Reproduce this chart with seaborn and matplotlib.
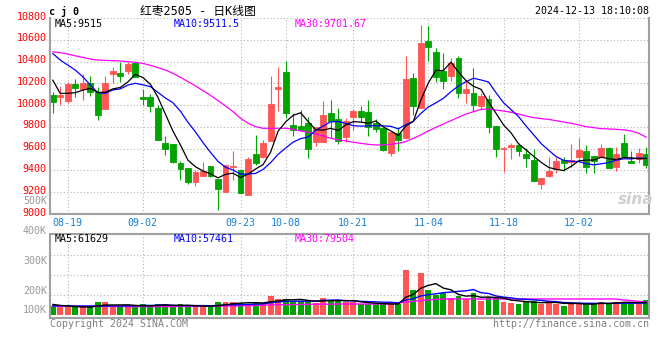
import matplotlib
matplotlib.use("Agg")
import matplotlib.pyplot as plt
import matplotlib.transforms as mtransforms
import numpy as np
import pandas as pd
import seaborn as sns

# ---------------- data ----------------
tick_pos = [2, 12, 25, 31, 40, 50, 60, 70]
tick_labels = ["08-19", "09-02", "09-23", "10-08", "10-21", "11-04", "11-18", "12-02"]
price_ticks = [9000, 9200, 9400, 9600, 9800, 10000, 10200, 10400, 10600, 10800]
vol_grid = [100000, 200000, 300000]
vol_label_text = ["500K", "400K", "300K", "200K", "100K"]

open_ = [10093, 10071, 10041, 10194, 10148, 10200, 10117, 9967, 10282, 10297,
         10316, 10383, 10074, 10071, 9973, 9649, 9643, 9472, 9426, 9294,
         9350, 9441, 9322, 9203, 9429, 9405, 9175, 9551, 9521, 9674,
         10151, 10304, 9818, 9808, 9833, 9665, 9659, 9924, 9870, 9711,
         9894, 9946, 9940, 9839, 9793, 9558, 9747, 9695, 10252, 9970,
         10591, 10484, 10312, 10270, 10429, 10114, 10108, 9992, 10056, 9808,
         9601, 9619, 9634, 9551, 9497, 9276, 9350, 9411, 9497, 9481,
         9521, 9579, 9533, 9527, 9603, 9435, 9649, 9487, 9506, 9551]
high = [10123, 10175, 10215, 10236, 10285, 10267, 10169, 10267, 10347, 10397,
        10392, 10397, 10145, 10099, 10001, 9716, 9643, 9487, 9426, 9405,
        9481, 9441, 9322, 9451, 9579, 9410, 9527, 9726, 9680, 10270,
        10353, 10408, 9924, 9955, 9888, 9796, 10041, 10047, 9970, 9885,
        9961, 9992, 10047, 9870, 9793, 9757, 9796, 10450, 10298, 10740,
        10726, 10521, 10481, 10429, 10450, 10230, 10337, 10108, 10093, 9808,
        9612, 9649, 9655, 9603, 9597, 9334, 9527, 9527, 9527, 9640,
        9701, 9634, 9533, 9640, 9612, 9619, 9732, 9579, 9603, 9612]
low = [9930, 10001, 10022, 10077, 10047, 10084, 9863, 9967, 10200, 10209,
       10282, 10255, 10001, 9940, 9680, 9542, 9466, 9313, 9276, 9261,
       9350, 9343, 9037, 9203, 9313, 9190, 9175, 9450, 9512, 9674,
       9946, 9879, 9717, 9766, 9512, 9628, 9659, 9695, 9640, 9659,
       9772, 9848, 9720, 9757, 9582, 9533, 9582, 9689, 9910, 9970,
       10408, 10215, 10145, 10221, 10062, 10022, 9946, 9955, 9747, 9527,
       9389, 9503, 9533, 9435, 9307, 9233, 9343, 9374, 9396, 9429,
       9481, 9380, 9374, 9510, 9426, 9398, 9527, 9466, 9466, 9426]
close_ = [10031, 10093, 10194, 10160, 10206, 10117, 9909, 10200, 10313, 10270,
          10374, 10255, 10059, 9995, 9680, 9597, 9481, 9417, 9294, 9383,
          9399, 9353, 9233, 9451, 9441, 9197, 9506, 9472, 9655, 10010,
          10163, 9931, 9772, 9772, 9601, 9796, 9909, 9857, 9674, 9854,
          9946, 9888, 9802, 9778, 9588, 9757, 9680, 10239, 9992, 10572,
          10536, 10261, 10224, 10383, 10114, 10145, 10001, 10084, 9802, 9594,
          9610, 9634, 9582, 9518, 9307, 9334, 9399, 9490, 9466, 9497,
          9588, 9435, 9487, 9603, 9426, 9548, 9533, 9472, 9558, 9451]

ma5 = [10230, 10108, 10108, 10114, 10137, 10154, 10117, 10118, 10149, 10162,
       10213, 10282, 10254, 10191, 10073, 9917, 9762, 9634, 9494, 9434,
       9395, 9369, 9332, 9364, 9375, 9335, 9366, 9413, 9454, 9568,
       9761, 9846, 9906, 9930, 9848, 9774, 9770, 9787, 9767, 9818,
       9848, 9844, 9833, 9854, 9800, 9763, 9721, 9808, 9851, 10048,
       10204, 10320, 10317, 10395, 10304, 10225, 10173, 10145, 10029, 9925,
       9818, 9745, 9644, 9588, 9530, 9475, 9428, 9410, 9399, 9437,
       9488, 9495, 9495, 9522, 9508, 9500, 9519, 9516, 9507, 9512]
ma10 = [10475, 10414, 10368, 10322, 10261, 10185, 10114, 10108, 10139, 10149,
        10184, 10200, 10186, 10170, 10117, 10065, 10022, 9944, 9842, 9754,
        9656, 9566, 9483, 9429, 9405, 9365, 9367, 9373, 9409, 9472,
        9548, 9606, 9660, 9692, 9708, 9768, 9808, 9847, 9849, 9833,
        9811, 9807, 9810, 9811, 9809, 9805, 9782, 9821, 9852, 9924,
        9983, 10021, 10063, 10123, 10176, 10215, 10247, 10231, 10212, 10114,
        10022, 9959, 9895, 9808, 9728, 9647, 9586, 9527, 9493, 9484,
        9482, 9462, 9452, 9461, 9473, 9494, 9507, 9506, 9515, 9510]
ma30 = [10490, 10481, 10469, 10453, 10438, 10423, 10414, 10411, 10408, 10405,
        10399, 10393, 10383, 10365, 10344, 10322, 10292, 10255, 10216, 10176,
        10133, 10090, 10041, 9992, 9940, 9879, 9833, 9802, 9787, 9787,
        9787, 9787, 9778, 9763, 9750, 9735, 9717, 9695, 9680, 9671,
        9659, 9649, 9640, 9634, 9634, 9640, 9649, 9665, 9695, 9726,
        9763, 9796, 9827, 9857, 9888, 9918, 9940, 9961, 9964, 9955,
        9946, 9934, 9918, 9900, 9885, 9876, 9869, 9857, 9845, 9833,
        9818, 9802, 9793, 9784, 9781, 9778, 9772, 9763, 9741, 9705]

volume = [45000, 39000, 39000, 40000, 40000, 40000, 65000, 65000, 40000, 42000,
          43000, 50000, 53000, 40000, 53000, 53000, 42000, 53000, 42000, 42000,
          42000, 42000, 65000, 66000, 66000, 58000, 52000, 65000, 60000, 95000,
          80000, 80000, 65000, 70000, 70000, 60000, 86000, 75000, 70000, 65000,
          65000, 55000, 55000, 55000, 55000, 55000, 55000, 225000, 125000, 210000,
          125000, 100000, 112000, 83000, 95000, 82000, 112000, 72000, 88000, 83000,
          67000, 62000, 55000, 67000, 70000, 53000, 70000, 53000, 45000, 67000,
          53000, 53000, 53000, 67000, 62000, 67000, 67000, 53000, 53000, 75000]
vol_ma5 = [53000, 48000, 45000, 42000, 40600, 39600, 44800, 50000, 50000, 50400,
           51000, 48000, 45600, 45600, 47800, 49800, 48200, 48200, 48600, 46400,
           44200, 44200, 46600, 51400, 56200, 59400, 61400, 61400, 60200, 66000,
           70400, 76000, 76000, 78000, 73000, 69000, 70200, 72200, 72200, 71200,
           72200, 66000, 62000, 59000, 57000, 55000, 55000, 89000, 103000, 134000,
           148000, 157000, 134400, 126000, 103000, 94400, 96800, 88800, 89800, 87400,
           84400, 74400, 71000, 66800, 64200, 61400, 63000, 62600, 58200, 57600,
           57600, 54200, 54200, 58600, 57600, 60400, 63200, 63200, 60400, 63000]
vol_ma10 = [46000, 46000, 46000, 45000, 45000, 45000, 45000, 45000, 45000, 45500,
            45300, 46400, 47800, 47800, 49100, 50400, 48100, 46900, 47100, 47100,
            47000, 46200, 47400, 50000, 51300, 51800, 52800, 54000, 55800, 61100,
            64900, 68700, 68700, 69100, 69500, 69700, 73100, 74100, 75100, 72100,
            70600, 68100, 67100, 65600, 64100, 63600, 60500, 75500, 81000, 95500,
            101500, 106000, 111700, 114500, 118500, 121200, 126900, 111600, 107900, 95200,
            89400, 85600, 79900, 78300, 75800, 72900, 68700, 66800, 62500, 60900,
            59500, 58600, 58400, 58400, 57600, 59000, 58700, 58700, 59500, 60300]
vol_ma30 = [44000, 44000, 44000, 43000, 43000, 43000, 43000, 43000, 43000, 43000,
            42000, 42000, 42000, 42000, 42000, 42000, 42000, 43000, 43000, 43000,
            44000, 44000, 44000, 45000, 45000, 46000, 47000, 48000, 49000, 50000,
            51000, 52000, 52000, 53000, 53000, 54000, 54000, 54000, 55000, 55000,
            55000, 55000, 55000, 55000, 55000, 56000, 60000, 65000, 68000, 72000,
            75000, 78000, 80000, 80000, 80000, 80000, 80000, 80000, 80000, 80000,
            80000, 80000, 80000, 80000, 80000, 80000, 80000, 80000, 80000, 80000,
            80000, 80000, 80000, 80000, 80000, 80000, 75000, 72000, 68000, 64000]

ma_text = ["MA5:9515", "MA10:9511.5", "MA30:9701.67"]
vol_ma_text = ["MA5:61629", "MA10:57461", "MA30:79504"]

# ---------------- style ----------------
sns.set_style("white")
plt.rcParams['font.family'] = ['DejaVu Sans Mono', 'Noto Sans CJK SC', 'DejaVu Sans']
RED = '#ff5555'
GREEN = '#00a300'
GRID = '#b4b4b4'
SPINE = '#a0a0a0'
FS = 7.2

W, H = 660, 360
fig = plt.figure(figsize=(W / 100, H / 100), dpi=100)
fig.patch.set_facecolor('white')


def fx(px):
    return px / W


def fy(py):
    return 1 - py / H


ax = fig.add_axes([fx(50), fy(214), fx(649) - fx(50), fy(18) - fy(214)])
axv = fig.add_axes([fx(50), fy(318), fx(649) - fx(50), fy(234) - fy(318)])

o = np.array(open_)
c = np.array(close_)
hi = np.array(high)
lo = np.array(low)
idx = np.arange(len(c))
cols = np.where(c >= o, RED, GREEN)

# candles
ax.vlines(idx, lo, hi, colors=cols, lw=0.8, zorder=2)
ax.bar(idx, np.abs(c - o), bottom=np.minimum(o, c), width=0.78, color=cols,
       edgecolor=cols, linewidth=0.6, zorder=2)

df = pd.DataFrame({'idx': idx, 'ma5': ma5, 'ma10': ma10, 'ma30': ma30,
                   'vol': volume, 'vma5': vol_ma5, 'vma10': vol_ma10, 'vma30': vol_ma30})
sns.lineplot(data=df, x='idx', y='ma30', ax=ax, color='#ff00ff', lw=0.9, zorder=3)
sns.lineplot(data=df, x='idx', y='ma10', ax=ax, color='#0000ff', lw=0.9, zorder=3)
sns.lineplot(data=df, x='idx', y='ma5', ax=ax, color='black', lw=0.9, zorder=3)

ax.set_xlim(-0.36, 79.36)
ax.set_ylim(9000, 10800)
ax.set_yticks(price_ticks)
ax.set_yticklabels([str(t) for t in price_ticks])
ax.set_xticks(tick_pos)
ax.set_xticklabels(tick_labels)
ax.tick_params(length=0, labelsize=FS)
ax.tick_params(axis='y', labelcolor='#ff0000', pad=2.5)
ax.tick_params(axis='x', labelcolor='#1580d8', pad=3)
ax.grid(True, color=GRID, linestyle=(0, (1, 2)), lw=0.8)
ax.set_xlabel('')
ax.set_ylabel('')
for s in ['left', 'bottom', 'right']:
    ax.spines[s].set_visible(True)
    ax.spines[s].set_color(SPINE)
    ax.spines[s].set_linewidth(1.5)
ax.spines['top'].set_visible(False)
# price labels sit slightly above their grid lines, as in the original
shift_up = mtransforms.ScaledTranslation(0, 2.5 / 100, fig.dpi_scale_trans)
for lab in ax.get_yticklabels():
    lab.set_transform(lab.get_transform() + shift_up)

# volume
axv.bar(idx, volume, width=0.78, color=cols, linewidth=0, zorder=2)
sns.lineplot(data=df, x='idx', y='vma30', ax=axv, color='#ff00ff', lw=1.0, zorder=3)
sns.lineplot(data=df, x='idx', y='vma10', ax=axv, color='#0000ff', lw=1.0, zorder=3)
sns.lineplot(data=df, x='idx', y='vma5', ax=axv, color='black', lw=1.0, zorder=3)
axv.set_xlim(-0.36, 79.36)
axv.set_ylim(-15000, 405000)
axv.set_yticks(vol_grid)
axv.set_xticks(tick_pos)
axv.tick_params(length=0, labelleft=False, labelbottom=False)
axv.grid(True, color=GRID, linestyle=(0, (1, 2)), lw=0.8)
axv.set_xlabel('')
axv.set_ylabel('')
for s in ['left', 'bottom', 'right', 'top']:
    axv.spines[s].set_visible(True)
    axv.spines[s].set_color(SPINE)
    axv.spines[s].set_linewidth(1.5)

# volume axis labels (placed like the original)
for lab, py in zip(vol_label_text, [201, 231, 261, 290.5, 310]):
    fig.text(fx(47), fy(py), lab, ha='right', va='center', fontsize=FS, color='#999999')

# MA legends
for txt, px, col in zip(ma_text, [55, 174, 295], ['black', '#0000ff', '#ff00ff']):
    fig.text(fx(px), fy(24), txt, ha='left', va='center', fontsize=FS, color=col)
for txt, px, col in zip(vol_ma_text, [55, 174, 295], ['black', '#0000ff', '#ff00ff']):
    fig.text(fx(px), fy(238.5), txt, ha='left', va='center', fontsize=FS, color=col)

# header
fig.text(fx(49), fy(11), "c j 0", ha='left', va='center', fontsize=FS,
         fontweight='bold', color='black')
fig.text(fx(140), fy(11), "红枣2505 - 日K线图", ha='left', va='center', fontsize=8.5,
         color='black', family=['DejaVu Sans Mono', 'Noto Sans CJK SC'])
fig.text(fx(649), fy(11.5), "2024-12-13 18:10:08", ha='right', va='center',
         fontsize=FS, color='black')

# watermark
fig.text(fx(636), fy(200), "sina", ha='center', va='center', fontsize=11,
         fontweight='bold', fontstyle='italic', color='#cfcfcf', family='DejaVu Sans')

# footer
fig.text(fx(50), fy(324), "Copyright 2024 SINA.COM", ha='left', va='center',
         fontsize=FS, color='#808080')
fig.text(fx(649), fy(324), "http://finance.sina.com.cn", ha='right', va='center',
         fontsize=FS, color='#808080')

fig.savefig("out.png", dpi=100, facecolor='white')
